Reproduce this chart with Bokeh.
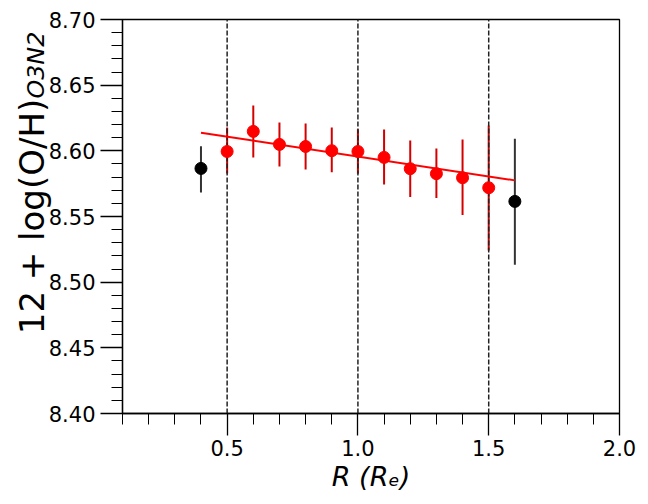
import numpy as np
from bokeh.plotting import figure
from bokeh.models import FixedTicker, PrintfTickFormatter, Label
from bokeh.embed import file_html
from bokeh.resources import INLINE

# ---- data ----
r_red = [0.5, 0.6, 0.7, 0.8, 0.9, 1.0, 1.1, 1.2, 1.3, 1.4, 1.5]
oh_red = [8.5995, 8.6148, 8.6049, 8.6033, 8.6001, 8.5995, 8.5950, 8.5864, 8.5826, 8.5795, 8.5719]
oh_red_hi = [8.6178, 8.6345, 8.6216, 8.6208, 8.6178, 8.6165, 8.6163, 8.6079, 8.6018, 8.6087, 8.6193]
oh_red_lo = [8.5828, 8.5950, 8.5881, 8.5858, 8.5836, 8.5825, 8.5744, 8.5648, 8.5640, 8.5511, 8.5242]

r_black = [0.4, 1.6]
oh_black = [8.5866, 8.5615]
oh_black_hi = [8.6034, 8.6092]
oh_black_lo = [8.5683, 8.5133]

fit_r = [0.4, 1.6]
fit_oh = [8.6138, 8.5775]

vlines_r = [0.5, 1.0, 1.5]

x_major = [0.5, 1.0, 1.5, 2.0]
x_minor = [0.1, 0.2, 0.3, 0.4, 0.5, 0.6, 0.7, 0.8, 0.9, 1.0, 1.1, 1.2, 1.3, 1.4, 1.5, 1.6, 1.7, 1.8, 1.9, 2.0]
y_major = [8.40, 8.45, 8.50, 8.55, 8.60, 8.65, 8.70]
y_minor = [round(8.40 + 0.01 * i, 2) for i in range(31)]

x_lim = (0.1, 2.0)
y_lim = (8.40, 8.70)

x_title = "R (R\u2091)"
y_title = "12 + log(O/H)"
y_title_sub = "O3N2"

FONT = "DejaVu Sans"

p = figure(width=648, height=504, x_range=x_lim, y_range=y_lim,
           output_backend="svg", toolbar_location=None,
           min_border_left=122, min_border_right=29, min_border_top=19, min_border_bottom=91)
p.grid.visible = False
p.outline_line_color = "black"
p.outline_line_width = 1.3
p.background_fill_color = "white"
p.border_fill_color = "white"

for ax in (p.xaxis[0], p.yaxis[0]):
    ax.axis_line_color = "black"
    ax.axis_line_width = 1.3
    ax.major_tick_line_color = "black"
    ax.minor_tick_line_color = "black"
    ax.major_tick_line_width = 1.3
    ax.minor_tick_line_width = 1.0
    ax.major_tick_out = 22
    ax.major_tick_in = 0
    ax.minor_tick_out = 11
    ax.minor_tick_in = 0
    ax.major_label_text_font = FONT
    ax.major_label_text_font_size = "21px"
    ax.major_label_text_color = "black"
    ax.axis_label_text_font = FONT
    ax.axis_label_text_color = "black"

p.xaxis.ticker = FixedTicker(ticks=x_major, minor_ticks=x_minor)
p.yaxis.ticker = FixedTicker(ticks=y_major, minor_ticks=y_minor)
p.xaxis.formatter = PrintfTickFormatter(format="%.1f")
p.yaxis.formatter = PrintfTickFormatter(format="%.2f")
p.xaxis.major_label_standoff = 4
p.yaxis.major_label_standoff = 5

p.xaxis.axis_label = x_title
p.xaxis.axis_label_text_font_size = "27px"
p.xaxis.axis_label_text_font_style = "italic"
p.xaxis.axis_label_standoff = 2

YF = 34
p.yaxis.axis_label = y_title
p.yaxis.axis_label_text_font_size = f"{YF}px"
p.yaxis.axis_label_text_font_style = "normal"
p.yaxis.axis_label_standoff = -6

# error bars
p.segment(x0=r_black, y0=oh_black_lo, x1=r_black, y1=oh_black_hi, line_color="#333333", line_width=2)
p.segment(x0=r_red, y0=oh_red_lo, x1=r_red, y1=oh_red_hi, line_color="#d40000", line_width=2)

# dashed verticals
p.segment(x0=vlines_r, y0=[y_lim[0]] * len(vlines_r), x1=vlines_r, y1=[y_lim[1]] * len(vlines_r),
          line_color="#222222", line_width=1.5, line_dash="5 2")

# fit line
p.line(fit_r, fit_oh, line_color="red", line_width=2)

# markers
p.scatter(r_black, oh_black, size=12, color="black")
p.scatter(r_red, oh_red, size=12, color="red")

# subscript of the y title (side panel, so it is not clipped to the frame)
p.add_layout(Label(x=-584, y=315, x_units="screen", y_units="screen", text=y_title_sub,
                   text_font=FONT, text_font_style="italic", text_font_size=f"{0.7 * YF:.1f}px",
                   text_color="black",
                   angle=np.pi / 2, text_baseline="alphabetic", text_align="left"), "right")

open("out.html", "w").write(file_html(p, INLINE))
